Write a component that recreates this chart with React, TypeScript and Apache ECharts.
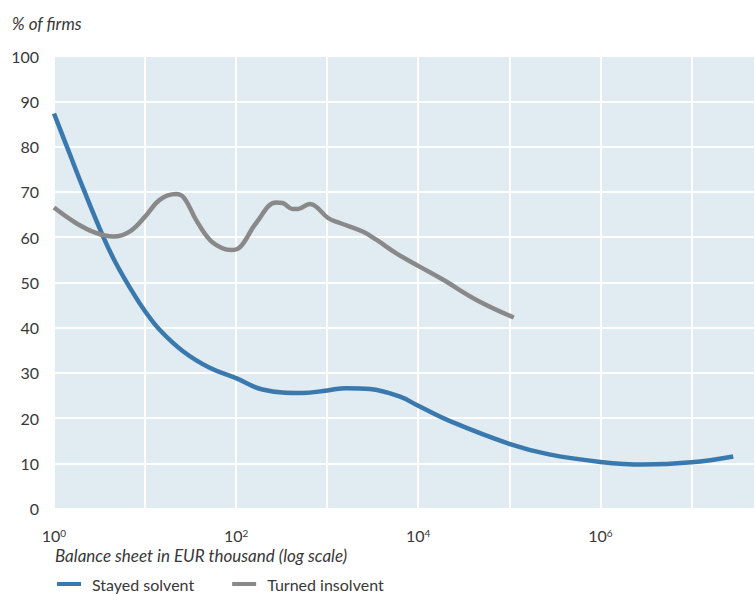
import React, { useEffect, useRef } from "react";
import * as echarts from "echarts";

// Balance sheet (EUR thousand), given as log10 exponents
const logBalanceSolvent = [0, 0.17, 0.32, 0.54, 0.68, 0.87, 1.0, 1.16, 1.42, 1.71, 2.0, 2.29, 2.73, 3.0, 3.21, 3.47, 3.8, 4.0, 4.35, 5.0, 5.45, 6.0, 6.47, 7.0, 7.46];
const stayedSolvent = [87.3, 78.5, 70.8, 60.1, 54.2, 47.6, 43.6, 39.5, 34.7, 31.1, 28.8, 26.3, 25.5, 26.1, 26.6, 26.4, 24.7, 22.7, 19.3, 14.3, 11.9, 10.3, 9.7, 10.2, 11.5];

const logBalanceInsolvent = [0, 0.24, 0.46, 0.65, 0.83, 1.0, 1.16, 1.34, 1.43, 1.56, 1.71, 1.85, 1.95, 2.05, 2.22, 2.44, 2.51, 2.62, 2.68, 2.81, 2.88, 3.01, 3.14, 3.39, 3.54, 3.76, 4.02, 4.27, 4.64, 5.05];
const turnedInsolvent = [66.5, 63.1, 60.9, 60.1, 61.2, 64.5, 68.2, 69.5, 68.6, 63.8, 59.4, 57.5, 57.1, 57.9, 63.1, 67.6, 67.5, 66.2, 66.2, 67.3, 66.7, 64.2, 63.1, 61.2, 59.4, 56.4, 53.4, 50.6, 46.1, 42.2];

const seriesNames = ["Stayed solvent", "Turned insolvent"];
const labeledExponents = [0, 2, 4, 6];
const yAxisTitle = "% of firms";
const xAxisTitle = "Balance sheet in EUR thousand (log scale)";

const FONT = "Lato, 'Open Sans', sans-serif";
const TEXT = "#383838";

export default function App() {
  const ref = useRef<HTMLDivElement>(null);
  useEffect(() => {
    if (!ref.current) return;
    const chart = echarts.init(ref.current, null, { renderer: "svg" });
    const toPairs = (xs: number[], ys: number[]) => xs.map((e, i) => [Math.pow(10, e), ys[i]]);
    chart.setOption({
      animation: false,
      textStyle: { fontFamily: FONT },
      grid: {
        left: 54,
        right: 0,
        top: 56,
        bottom: 86.5,
        show: true,
        backgroundColor: "#e1ebf2",
        borderWidth: 0,
      },
      xAxis: {
        type: "log",
        logBase: 10,
        min: 1,
        max: 5e7,
        axisLine: { show: false },
        axisTick: { show: false },
        splitLine: { show: true, lineStyle: { color: "#ffffff", width: 2 } },
        axisLabel: {
          margin: 19,
          color: TEXT,
          fontFamily: FONT,
          fontSize: 16,
          showMaxLabel: false,
          formatter: (v: number) => {
            const l = Math.log10(v);
            const e = Math.round(l);
            if (Math.abs(l - e) > 1e-6 || labeledExponents.indexOf(e) < 0) return "";
            return "{b|10}{s|" + e + "}";
          },
          rich: {
            b: { fontSize: 16, color: TEXT, fontFamily: FONT },
            s: { fontSize: 10, color: TEXT, fontFamily: FONT, verticalAlign: "top", padding: [0, 0, 6, 0] },
          },
        },
      },
      yAxis: {
        type: "value",
        min: 0,
        max: 100,
        interval: 10,
        axisLine: { show: false },
        axisTick: { show: false },
        splitLine: { show: true, lineStyle: { color: "#ffffff", width: 2 } },
        axisLabel: { margin: 15, color: TEXT, fontFamily: FONT, fontSize: 16 },
      },
      legend: {
        left: 52,
        top: 571,
        itemWidth: 24,
        itemHeight: 4,
        itemGap: 38,
        icon: "rect",
        textStyle: { fontSize: 16, color: TEXT, fontFamily: FONT, padding: [0, 0, 0, 6] },
        data: seriesNames,
      },
      graphic: [
        {
          type: "text",
          left: 12,
          top: 15,
          style: { text: yAxisTitle, font: "italic 17px " + FONT, fill: TEXT },
        },
        {
          type: "text",
          left: 55,
          top: 547,
          style: { text: xAxisTitle, font: "italic 17px " + FONT, fill: TEXT },
        },
      ],
      series: [
        {
          name: seriesNames[0],
          type: "line",
          data: toPairs(logBalanceSolvent, stayedSolvent),
          smooth: 0.4,
          showSymbol: false,
          symbol: "none",
          lineStyle: { color: "#3a79ae", width: 4.5 },
          itemStyle: { color: "#3a79ae" },
        },
        {
          name: seriesNames[1],
          type: "line",
          data: toPairs(logBalanceInsolvent, turnedInsolvent),
          smooth: 0.4,
          showSymbol: false,
          symbol: "none",
          lineStyle: { color: "#898989", width: 4.5 },
          itemStyle: { color: "#898989" },
        },
      ],
    });
    return () => chart.dispose();
  }, []);
  return (
    <div
      ref={ref}
      style={{ position: "fixed", left: 0, top: 0, width: 755, height: 595, background: "#ffffff" }}
    />
  );
}
